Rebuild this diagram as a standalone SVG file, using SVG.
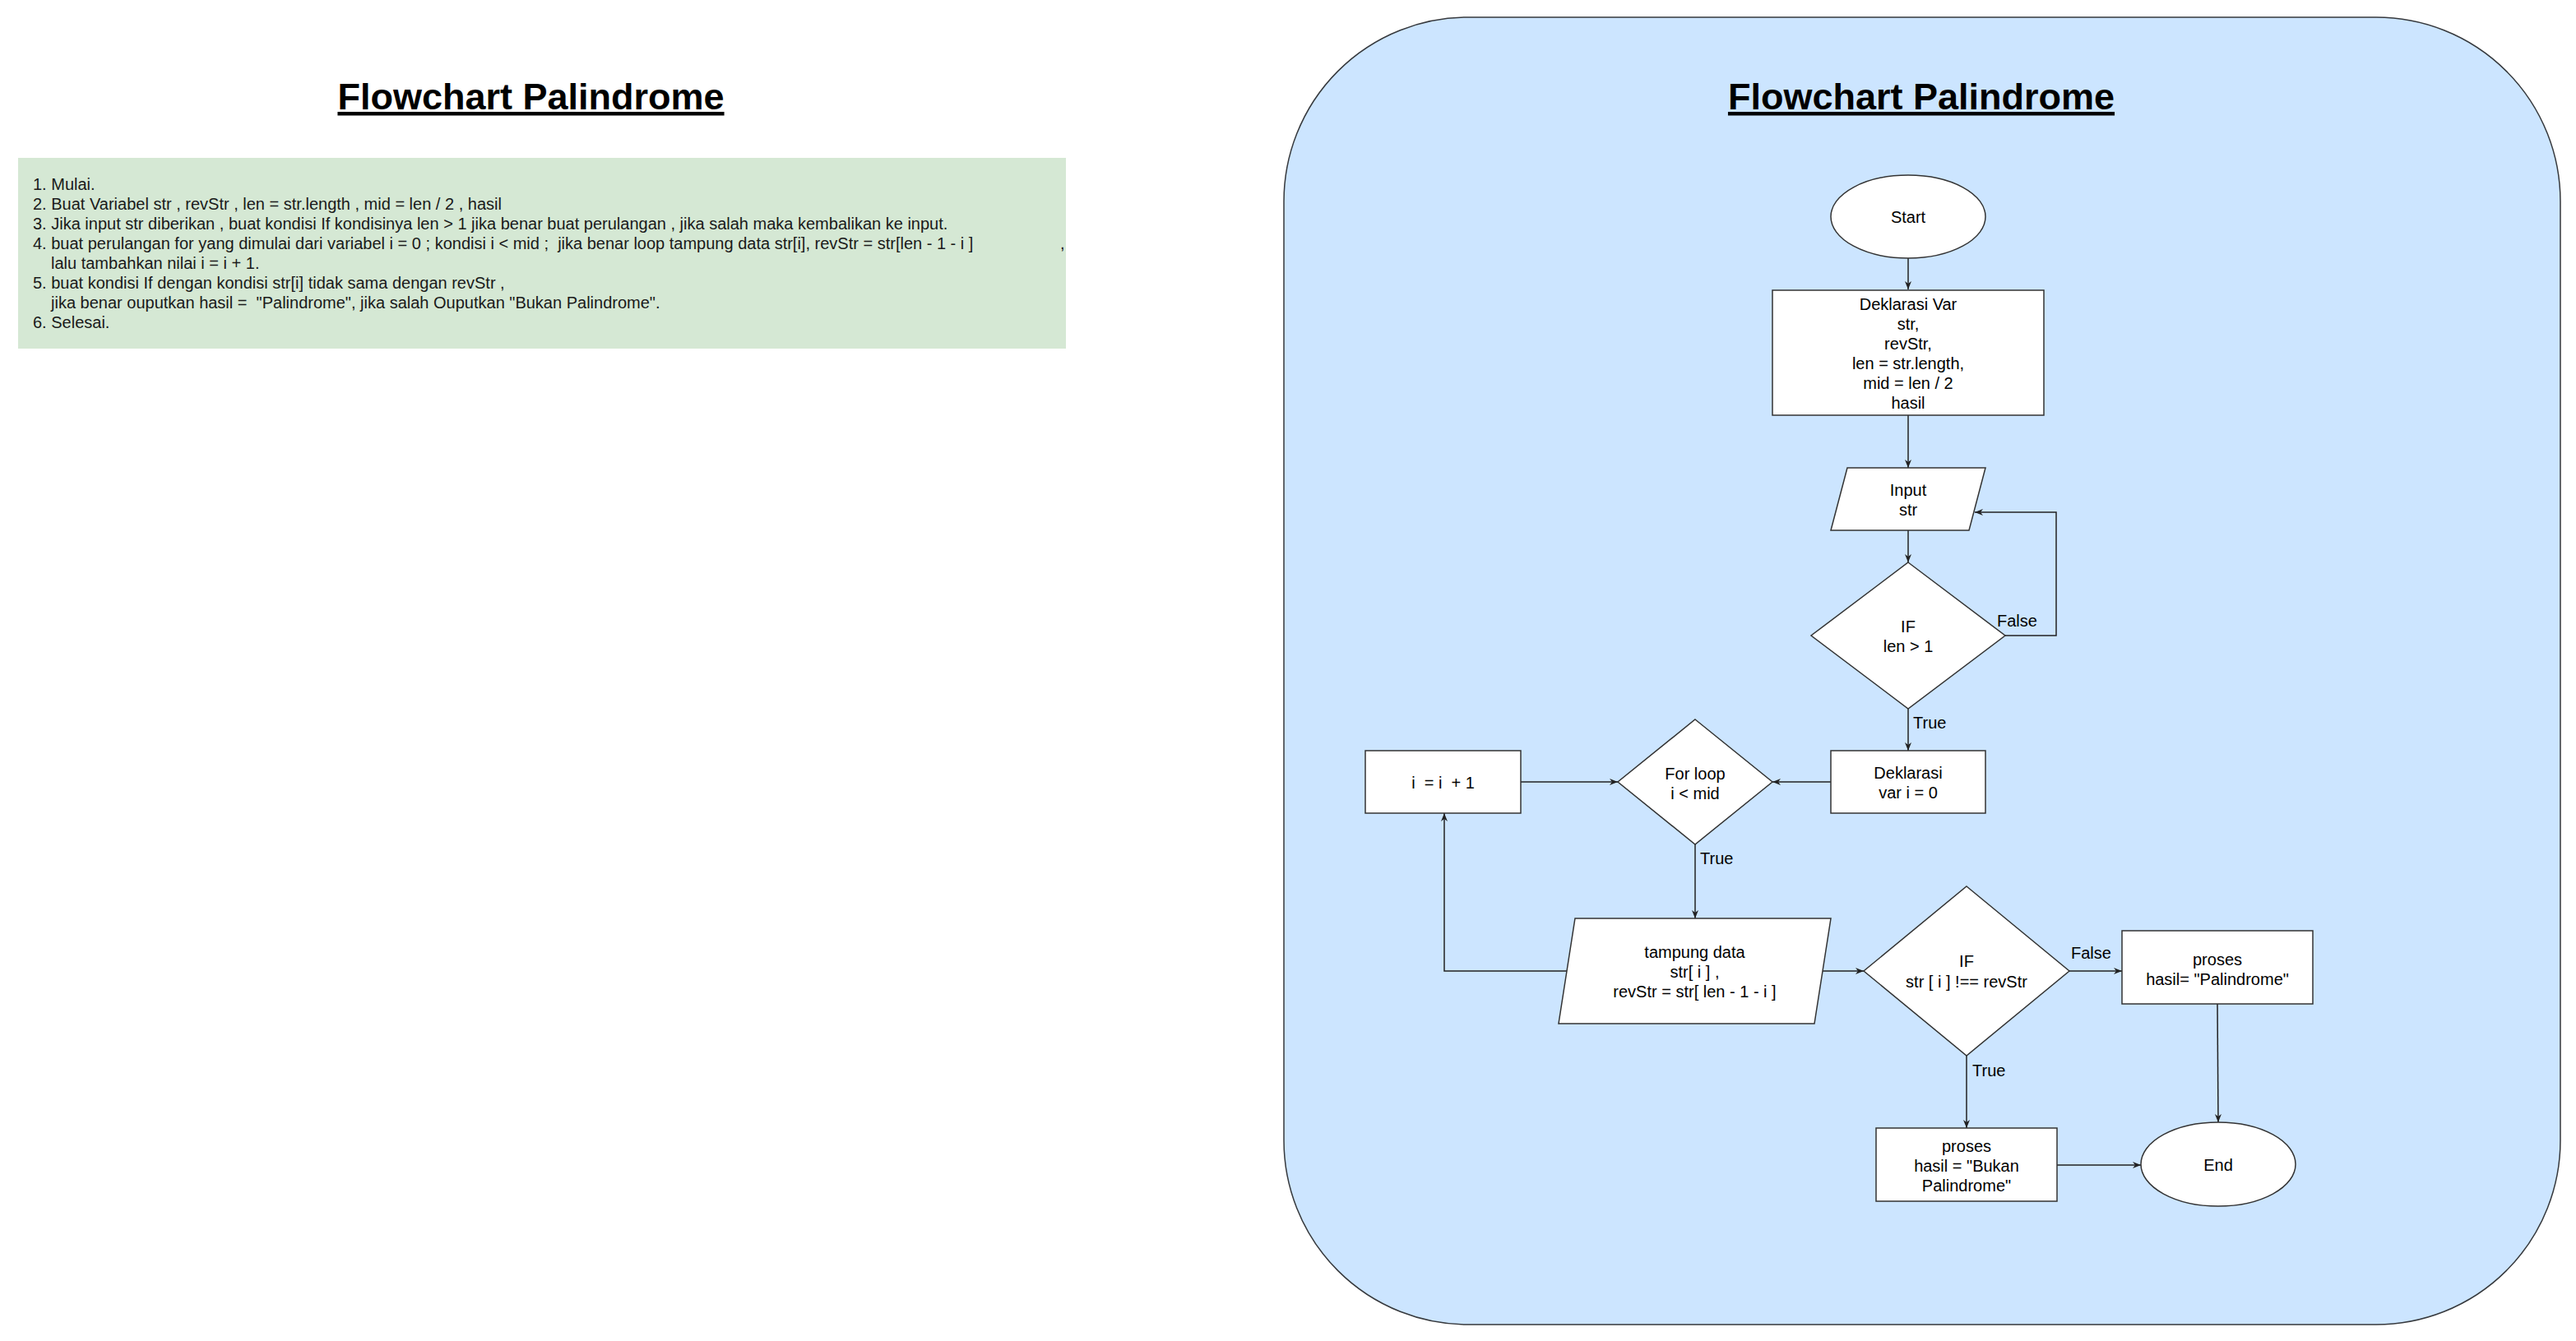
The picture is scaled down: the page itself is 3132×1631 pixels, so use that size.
<svg xmlns="http://www.w3.org/2000/svg" width="3132" height="1631" viewBox="0 0 3132 1631">
<style>
  text { font-family: "Liberation Sans", Arial, sans-serif; fill: #000; }
  .t { font-size: 20px; text-anchor: middle; }
  .lbl { font-size: 20px; text-anchor: start; }
  .body { font-size: 20px; fill: #1a1a1a; }
  .title { font-size: 45px; font-weight: bold; text-anchor: middle; text-decoration: underline; }
  .node { fill: #ffffff; stroke: #333333; stroke-width: 1.5; }
  .edge { fill: none; stroke: #222222; stroke-width: 1.5; }
</style>
<defs>
  <marker id="arr" markerUnits="userSpaceOnUse" markerWidth="12" markerHeight="10" refX="10" refY="4" orient="auto">
    <path d="M10,4 L0,0 L3,4 L0,8 z" fill="#222222"/>
  </marker>
</defs>
<rect width="3132" height="1631" fill="#ffffff"/>

<g id="left-title">
  <text class="title" x="645.5" y="133">Flowchart Palindrome</text>
</g>

<g id="steps">
  <rect x="22" y="192" width="1274" height="232" fill="#d5e8d4"/>
  <text class="body" x="40" y="231">1. Mulai.</text>
  <text class="body" x="40" y="255">2. Buat Variabel str , revStr , len = str.length , mid = len / 2 , hasil</text>
  <text class="body" x="40" y="279">3. Jika input str diberikan , buat kondisi If kondisinya len &gt; 1 jika benar buat perulangan , jika salah maka kembalikan ke input.</text>
  <text class="body" x="40" y="303" xml:space="preserve">4. buat perulangan for yang dimulai dari variabel i = 0 ; kondisi i &lt; mid ;  jika benar loop tampung data str[i], revStr = str[len - 1 - i ]<tspan x="1289">,</tspan></text>
  <text class="body" x="62" y="327">lalu tambahkan nilai i = i + 1.</text>
  <text class="body" x="40" y="351">5. buat kondisi If dengan kondisi str[i] tidak sama dengan revStr ,</text>
  <text class="body" x="62" y="375" xml:space="preserve">jika benar ouputkan hasil =  "Palindrome", jika salah Ouputkan "Bukan Palindrome".</text>
  <text class="body" x="40" y="399">6. Selesai.</text>
</g>

<g id="container">
  <rect x="1561" y="21" width="1552" height="1590" rx="224" ry="224" fill="#cce5ff" stroke="#36393d" stroke-width="1.5"/>
  <text class="title" x="2336" y="133">Flowchart Palindrome</text>
</g>

<g id="connectors">
  <path class="edge" marker-end="url(#arr)" d="M2320,314 L2320,352"/>
  <path class="edge" marker-end="url(#arr)" d="M2320,505 L2320,569"/>
  <path class="edge" marker-end="url(#arr)" d="M2320,645 L2320,684"/>
  <path class="edge" marker-end="url(#arr)" d="M2438,773 L2500,773 L2500,623 L2401,623"/>
  <path class="edge" marker-end="url(#arr)" d="M2320,862 L2320,913"/>
  <path class="edge" marker-end="url(#arr)" d="M2226,951 L2155,951"/>
  <path class="edge" marker-end="url(#arr)" d="M1849,951 L1967,951"/>
  <path class="edge" marker-end="url(#arr)" d="M2061,1027 L2061,1117"/>
  <path class="edge" marker-end="url(#arr)" d="M1905,1181 L1756,1181 L1756,989"/>
  <path class="edge" marker-end="url(#arr)" d="M2216,1181 L2266,1181"/>
  <path class="edge" marker-end="url(#arr)" d="M2516,1181 L2580,1181"/>
  <path class="edge" marker-end="url(#arr)" d="M2391,1284 L2391,1372"/>
  <path class="edge" marker-end="url(#arr)" d="M2696,1221 L2697,1365"/>
  <path class="edge" marker-end="url(#arr)" d="M2501,1417 L2603,1417"/>
  <text class="lbl" x="2428" y="762">False</text>
  <text class="lbl" x="2326" y="886">True</text>
  <text class="lbl" x="2067" y="1051">True</text>
  <text class="lbl" x="2518" y="1166">False</text>
  <text class="lbl" x="2398" y="1309">True</text>
</g>

<g id="start">
  <ellipse class="node" cx="2320" cy="263.5" rx="94" ry="50.5"/>
  <text class="t" x="2320" y="271">Start</text>
</g>

<g id="decl-var">
  <rect class="node" x="2155" y="353" width="330" height="152"/>
  <text class="t" x="2320" y="377">Deklarasi Var</text>
  <text class="t" x="2320" y="401">str,</text>
  <text class="t" x="2320" y="425">revStr,</text>
  <text class="t" x="2320" y="449">len = str.length,</text>
  <text class="t" x="2320" y="473">mid = len / 2</text>
  <text class="t" x="2320" y="497">hasil</text>
</g>

<g id="input">
  <polygon class="node" points="2246,569 2414,569 2394,645 2226,645"/>
  <text class="t" x="2320" y="603">Input</text>
  <text class="t" x="2320" y="627">str</text>
</g>

<g id="if-len">
  <polygon class="node" points="2320,684 2438,773 2320,862 2202,773"/>
  <text class="t" x="2320" y="769">IF</text>
  <text class="t" x="2320" y="793">len &gt; 1</text>
</g>

<g id="decl-i">
  <rect class="node" x="2226" y="913" width="188" height="76"/>
  <text class="t" x="2320" y="947">Deklarasi</text>
  <text class="t" x="2320" y="971">var i = 0</text>
</g>

<g id="for-loop">
  <polygon class="node" points="2061,875 2155,951 2061,1027 1967,951"/>
  <text class="t" x="2061" y="948">For loop</text>
  <text class="t" x="2061" y="972">i &lt; mid</text>
</g>

<g id="increment">
  <rect class="node" x="1660" y="913" width="189" height="76"/>
  <text class="t" x="1754.5" y="959" xml:space="preserve">i  = i  + 1</text>
</g>

<g id="tampung">
  <polygon class="node" points="1915,1117 2226,1117 2206,1245 1895,1245"/>
  <text class="t" x="2060.5" y="1165">tampung data</text>
  <text class="t" x="2060.5" y="1189">str[ i ] ,</text>
  <text class="t" x="2060.5" y="1213">revStr = str[ len - 1 - i ]</text>
</g>

<g id="if-rev">
  <polygon class="node" points="2391,1078 2516,1181 2391,1284 2266,1181"/>
  <text class="t" x="2391" y="1176">IF</text>
  <text class="t" x="2391" y="1201">str [ i ] !== revStr</text>
</g>

<g id="proses-palindrome">
  <rect class="node" x="2580" y="1132" width="232" height="89"/>
  <text class="t" x="2696" y="1174">proses</text>
  <text class="t" x="2696" y="1198">hasil= "Palindrome"</text>
</g>

<g id="proses-bukan">
  <rect class="node" x="2281" y="1372" width="220" height="89"/>
  <text class="t" x="2391" y="1401">proses</text>
  <text class="t" x="2391" y="1425">hasil = "Bukan</text>
  <text class="t" x="2391" y="1449">Palindrome"</text>
</g>

<g id="end">
  <ellipse class="node" cx="2697" cy="1416" rx="94" ry="51"/>
  <text class="t" x="2697" y="1424">End</text>
</g>
</svg>
